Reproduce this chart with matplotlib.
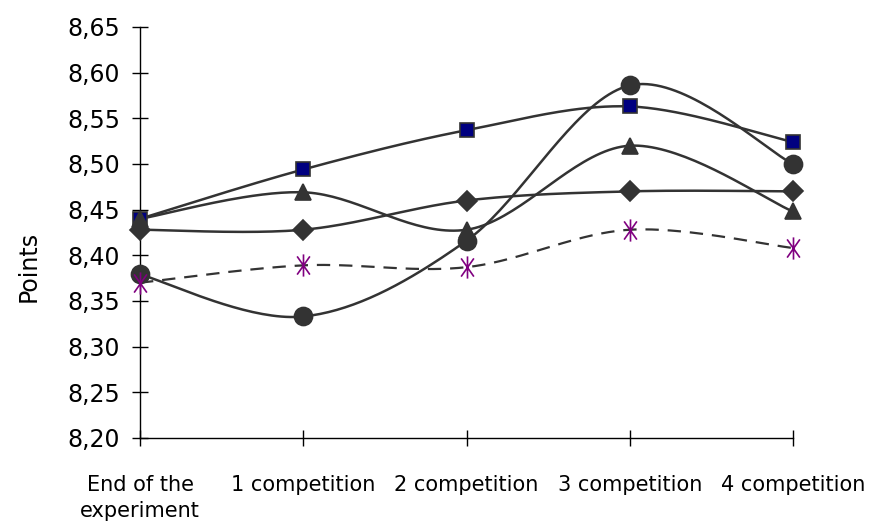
import numpy as np
import matplotlib.pyplot as plt
from matplotlib.path import Path

# Mean points per stage for each group
stages = ['End of the\nexperiment', '1 competition', '2 competition',
          '3 competition', '4 competition']
squares = [8.440, 8.494, 8.537, 8.563, 8.524]
triangles = [8.440, 8.469, 8.428, 8.520, 8.448]
diamonds = [8.428, 8.428, 8.460, 8.470, 8.470]
circles = [8.379, 8.333, 8.416, 8.586, 8.500]
stars = [8.370, 8.389, 8.387, 8.428, 8.408]

yticks = [8.20, 8.25, 8.30, 8.35, 8.40, 8.45, 8.50, 8.55, 8.60, 8.65]


def smooth(x, y, n=40):
    # Catmull-Rom spline through the points, like a spreadsheet "smoothed line"
    p = np.column_stack([x, y]).astype(float)
    p = np.vstack([p[0], p, p[-1]])
    out = []
    t = np.linspace(0, 1, n)[:, None]
    for i in range(1, len(p) - 2):
        p0, p1, p2, p3 = p[i - 1], p[i], p[i + 1], p[i + 2]
        c1 = p1 + (p2 - p0) / 6
        c2 = p2 - (p3 - p1) / 6
        seg = ((1 - t) ** 3 * p1 + 3 * (1 - t) ** 2 * t * c1
               + 3 * (1 - t) * t ** 2 * c2 + t ** 3 * p2)
        out.append(seg if i == 1 else seg[1:])
    out = np.vstack(out)
    return out[:, 0], out[:, 1]


# asterisk: a vertical stroke plus a steep X
a = np.deg2rad(55)
ca, sa = np.cos(a), np.sin(a)
star_marker = Path([(0, -1), (0, 1), (-ca, -sa), (ca, sa), (-ca, sa), (ca, -sa)],
                   [Path.MOVETO, Path.LINETO] * 3)

plt.rcParams['font.family'] = ['DejaVu Sans']

fig = plt.figure(figsize=(8.72, 5.22), dpi=100)
ax = fig.add_axes([0.1606, 0.161, 0.7488, 0.7873])

x = np.arange(len(stages))
line_c = '#333333'

series = [
    (squares, 's', '#000080', 10, '-'),
    (triangles, '^', line_c, 11, '-'),
    (diamonds, 'D', line_c, 10, '-'),
    (circles, 'o', line_c, 13, '-'),
]
for vals, mk, fc, ms, ls in series:
    sx, sy = smooth(x, vals)
    ax.plot(sx, sy, color=line_c, lw=1.8, ls=ls, zorder=2, clip_on=False)
    ax.plot(x, vals, linestyle='none', marker=mk, ms=ms, mfc=fc,
            mec=line_c, mew=1.2, zorder=3, clip_on=False)

sx, sy = smooth(x, stars)
ax.plot(sx, sy, color=line_c, lw=1.6, dashes=(6, 4), zorder=2, clip_on=False)
ax.plot(x, stars, linestyle='none', marker=star_marker, ms=16,
        mec='#800080', mew=1.2, zorder=4, clip_on=False)

ax.set_xlim(0, 4)
ax.set_ylim(8.20, 8.65)
ax.set_yticks(yticks)
ax.set_yticklabels([f'{v:.2f}'.replace('.', ',') for v in yticks])
ax.set_xticks(x)
ax.set_xticklabels(stages, linespacing=1.4)

for s in ['top', 'right']:
    ax.spines[s].set_visible(False)
for s in ['left', 'bottom']:
    ax.spines[s].set_linewidth(1.0)
    ax.spines[s].set_color('black')

ax.tick_params(axis='y', direction='inout', length=11, width=1,
               labelsize=17, pad=9)
ax.tick_params(axis='x', direction='inout', length=11, width=1,
               labelsize=15, pad=21)

ax.set_ylabel('Points', fontsize=17)
ax.yaxis.set_label_coords(-0.153, 0.418)

plt.savefig('out.png', dpi=100)
